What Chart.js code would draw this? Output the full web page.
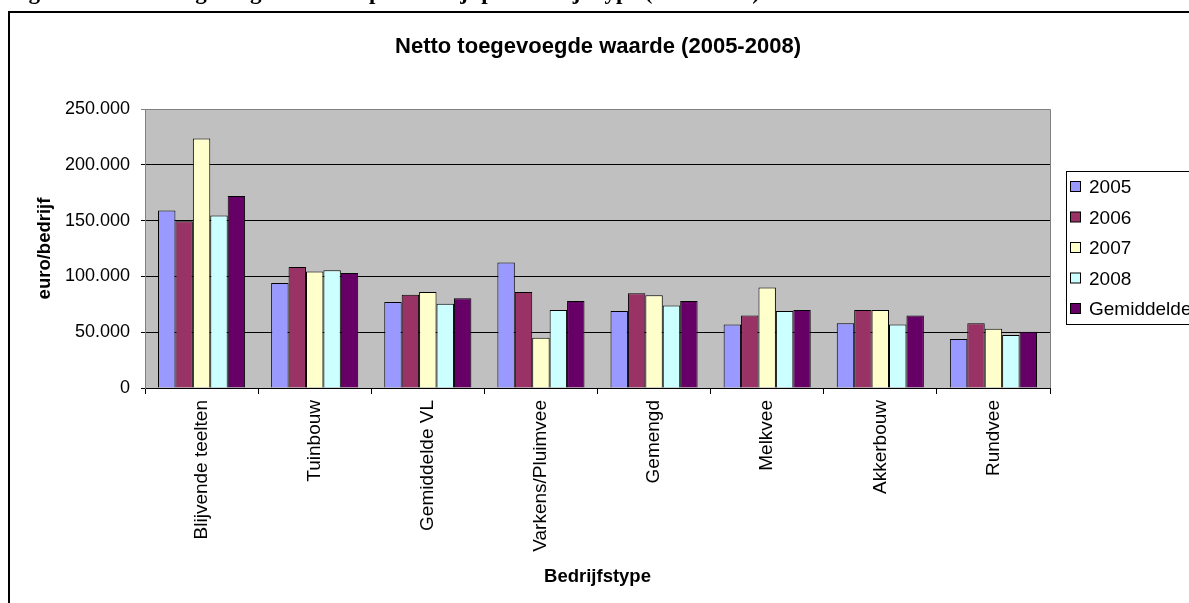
<!DOCTYPE html>
<html>
<head>
<meta charset="utf-8">
<script src="https://cdn.jsdelivr.net/npm/chart.js@4.4.1/dist/chart.umd.min.js"></script>
<style>
html,body{margin:0;padding:0;background:#fff;overflow:hidden;}
#wrap{position:relative;width:1189px;height:603px;}
</style>
</head>
<body>
<div id="wrap"><canvas id="c" width="1189" height="603"></canvas></div>
<script>
const categories = ["Blijvende teelten","Tuinbouw","Gemiddelde VL","Varkens/Pluimvee","Gemengd","Melkvee","Akkerbouw","Rundvee"];
const seriesLabels = ["2005","2006","2007","2008","Gemiddelde"];
const v2005 = [159000, 94000, 77000, 112500, 69000, 57000, 58000, 44000];
const v2006 = [149500, 108500, 83500, 86000, 85000, 65000, 70000, 58000];
const v2007 = [223500, 104500, 86000, 45000, 83000, 90000, 70000, 53000];
const v2008 = [154500, 105500, 75500, 70000, 74000, 69000, 57000, 47500];
const vGem  = [172000, 103000, 80500, 78000, 78000, 70000, 65000, 50500];
const yTicks = [0, 50000, 100000, 150000, 200000, 250000];
const colors = ["#9999FF","#993366","#FFFFCC","#CCFFFF","#660066"];
const chartTitle = "Netto toegevoegde waarde (2005-2008)";
const yTitle = "euro/bedrijf";
const xTitle = "Bedrijfstype";
const caption = "Figuur 2: Netto toegevoegde waarde per bedrijf per bedrijfstype (2005-2008)";

const FONT = '"Liberation Sans", Arial, sans-serif';
Chart.defaults.font.family = FONT;
Chart.defaults.color = "#000";

function fmt(v){ return String(v).replace(/\B(?=(\d{3})+(?!\d))/g, "."); }

const seriesValues = [v2005, v2006, v2007, v2008, vGem];

const decor = {
  id: "decor",
  beforeDraw(chart){
    const {ctx, chartArea:a} = chart;
    ctx.save();
    ctx.fillStyle = "#C0C0C0";
    ctx.fillRect(a.left, a.top, a.right - a.left, a.bottom - a.top);
    ctx.strokeStyle = "#808080";
    ctx.lineWidth = 1;
    ctx.beginPath();
    ctx.moveTo(a.left, a.top + 0.5); ctx.lineTo(a.right + 0.5, a.top + 0.5);
    ctx.lineTo(a.right + 0.5, a.bottom);
    ctx.stroke();
    ctx.restore();
  },
  afterDraw(chart){
    const ctx = chart.ctx;
    ctx.save();
    // outer frame
    ctx.strokeStyle = "#000";
    ctx.lineWidth = 2;
    ctx.beginPath();
    ctx.moveTo(1200, 12); ctx.lineTo(9, 12); ctx.lineTo(9, 610);
    ctx.stroke();
    // caption (cut off at top)
    ctx.fillStyle = "#000";
    ctx.font = 'bold 23px "Liberation Serif", "Times New Roman", serif';
    ctx.textBaseline = "alphabetic";
    ctx.textAlign = "left";
    ctx.fillText(caption, 8, -1);
    // chart title
    ctx.font = 'bold 22px ' + FONT;
    ctx.textAlign = "center";
    ctx.textBaseline = "middle";
    ctx.fillText(chartTitle, 598, 47);
    // legend
    ctx.textAlign = "left";
    ctx.lineWidth = 1;
    ctx.strokeRect(1066.5, 171.5, 200, 153);
    ctx.font = '19px ' + FONT;
    ctx.textBaseline = "middle";
    chart.data.datasets.forEach((ds, i) => {
      const y = 187 + i * 30.5;
      ctx.fillStyle = ds.backgroundColor;
      ctx.fillRect(1070.5, y - 5.5, 10, 10);
      ctx.strokeStyle = "#000";
      ctx.strokeRect(1070.5, y - 5.5, 10, 10);
      ctx.fillStyle = "#000";
      ctx.fillText(ds.label, 1089, y + 1);
    });
    ctx.restore();
  }
};

new Chart(document.getElementById("c"), {
  type: "bar",
  data: {
    labels: categories,
    datasets: seriesLabels.map((l, i) => ({
      label: l,
      data: seriesValues[i],
      backgroundColor: colors[i],
      borderColor: "#000",
      borderWidth: 1,
      categoryPercentage: 0.77,
      barPercentage: 1.0
    }))
  },
  options: {
    responsive: false,
    animation: false,
    devicePixelRatio: 1,
    layout: { padding: { left: 0, top: 109, right: 139, bottom: 0 } },
    plugins: {
      legend: { display: false },
      tooltip: { enabled: false },
      title: { display: false }
    },
    scales: {
      x: {
        afterFit(s){ s.height = 215; },
        grid: { drawOnChartArea: false, drawTicks: true, tickLength: 6, color: "#000", offset: true },
        border: { color: "#000", width: 1 },
        ticks: { autoSkip: false, minRotation: 90, maxRotation: 90, padding: 6, color: "#000", font: { size: 19 } },
        title: { display: true, text: xTitle, color: "#000", font: { size: 18.5, weight: "bold" }, padding: { bottom: 15, top: 0 } }
      },
      y: {
        min: 0, max: 250000,
        afterFit(s){ s.width = 145; },
        afterBuildTicks(s){ s.ticks = yTicks.map(v => ({ value: v })); },
        grid: { color: (c) => (c.tick && c.tick.value === 250000) ? "#808080" : "#000", tickLength: 4, lineWidth: 1 },
        border: { color: "#808080", width: 1 },
        ticks: { padding: 11, color: "#000", font: { size: 18 }, callback: (v) => fmt(v) },
        title: { display: true, text: yTitle, color: "#000", font: { size: 18.5, weight: "bold" }, padding: { top: 34, bottom: 0 } }
      }
    }
  },
  plugins: [decor]
});
</script>
</body>
</html>
